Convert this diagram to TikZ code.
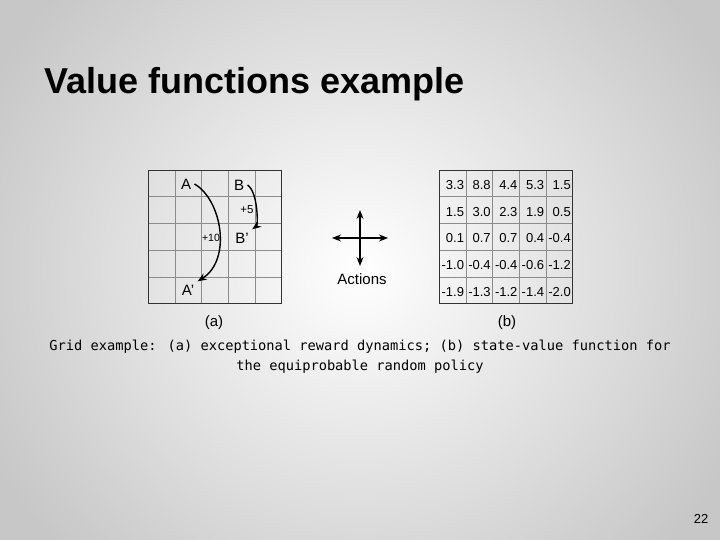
\documentclass[tikz,border=0pt]{standalone}
\usepackage{fontspec}
\usetikzlibrary{arrows.meta}
\setmainfont{Liberation Sans}
\newfontfamily\monof{DejaVu Sans Mono}
\begin{document}
\begin{tikzpicture}[x=1pt,y=-1pt,
  lbl/.style={font=\fontsize{15}{17}\selectfont},
  val/.style={font=\fontsize{13}{15}\selectfont},
  arr/.style={-{Stealth[length=9pt,width=7pt]},line width=1.4pt}]
\useasboundingbox (0,0) rectangle (720,540);
\shade[inner color=white,outer color=black!22] (-60,-130) rectangle (780,670);
\node[anchor=west,font=\bfseries\fontsize{36}{40}\selectfont,inner sep=0pt] (title) at (44,84) {Value functions example};
% grid a
\foreach \i in {1,...,4}{\draw[black!45] (148+26.7*\i,170)--(148+26.7*\i,303.5); \draw[black!45](148,170+26.7*\i)--(281.5,170+26.7*\i);}
\draw[black!80] (148,170) rectangle (281.5,303.5);
\node[lbl] (A) at (186,184) {A};
\node[lbl] (B) at (239,185) {B};
\node[lbl] (Ap) at (188,290) {A'};
\node[lbl] (Bp) at (242,238) {B'};
\node[font=\fontsize{10.5}{12}\selectfont] (p10) at (211,238) {+10};
\node[font=\fontsize{11.5}{13}\selectfont] (p5) at (247,210) {+5};
\draw[arr] (A.east) .. controls (222,200) and (232,260) .. (Ap.north east);
\draw[arr] (B.east) .. controls (258,192) and (258,225) .. (Bp.north east);
% actions
\coordinate (c) at (360,238);
\draw[arr] (c)--(388,238); \draw[arr] (c)--(332,238);
\draw[arr] (c)--(360,210); \draw[arr] (c)--(360,266);
\node[lbl] (act) at (362,279) {Actions};
\node[lbl] (la) at (214,323) {(a)};
\node[lbl] (lb) at (507,323) {(b)};
% grid b
\foreach \i in {1,...,4}{\draw[black!45] (439+26.7*\i,170)--(439+26.7*\i,303.5); \draw[black!45](439,170+26.7*\i)--(572.5,170+26.7*\i);}
\draw[black!80] (439,170) rectangle (572.5,303.5);
\foreach \r [count=\y from 0] in {{3.3,8.8,4.4,5.3,1.5},{1.5,3.0,2.3,1.9,0.5},{0.1,0.7,0.7,0.4,-0.4},{-1.0,-0.4,-0.4,-0.6,-1.2},{-1.9,-1.3,-1.2,-1.4,-2.0}}{
  \foreach \v [count=\x from 0] in \r {\node[val,anchor=east,inner sep=1pt] at (439+26.7*\x+26.2,185+26.7*\y) {\v};}}
\node[font=\monof\fontsize{13.7}{20}\selectfont,align=center] (cap) at (360,357) {Grid example: (a) exceptional reward dynamics; (b) state-value function for\\the equiprobable random policy};
\node[font=\fontsize{13}{15}\selectfont] (pg) at (701,519) {22};
\end{tikzpicture}
\end{document}
